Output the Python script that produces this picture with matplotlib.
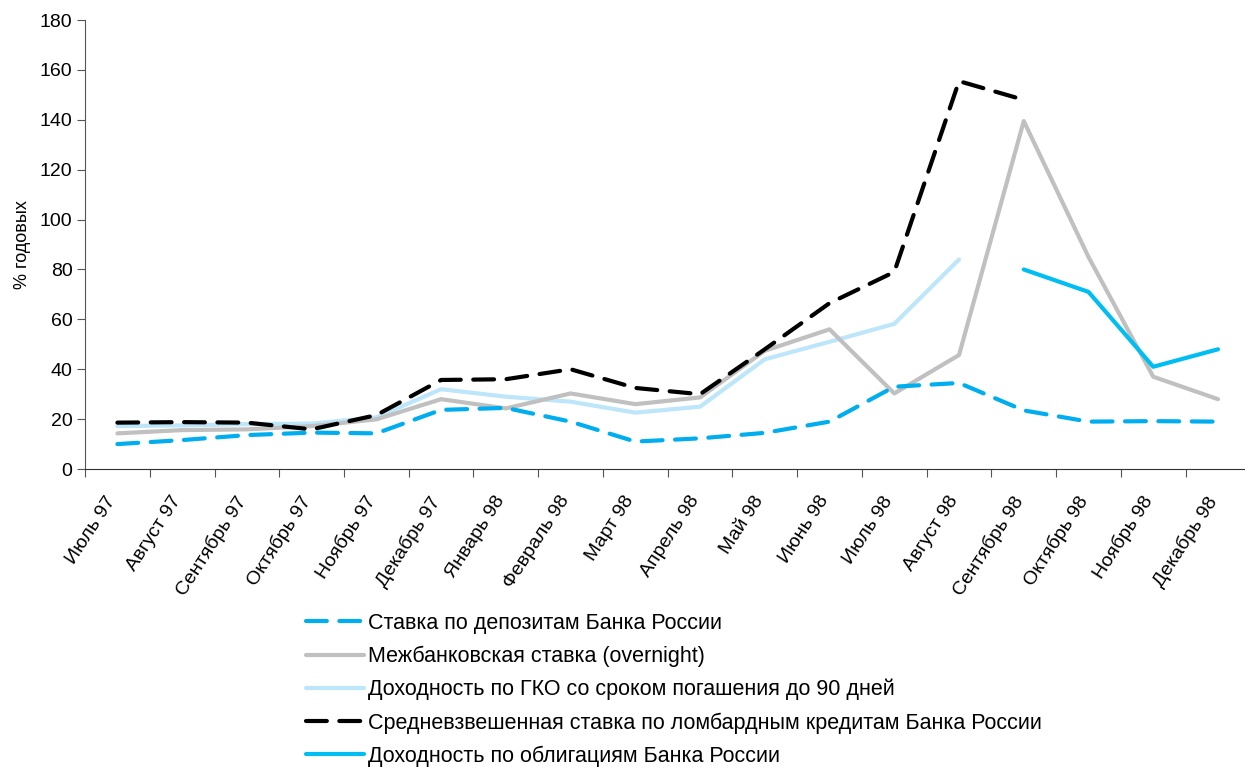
import numpy as np
import matplotlib.pyplot as plt
import matplotlib.transforms as mtransforms

plt.rcParams['font.family'] = ['Liberation Sans', 'DejaVu Sans']

months = ["Июль 97", "Август 97", "Сентябрь 97", "Октябрь 97", "Ноябрь 97",
          "Декабрь 97", "Январь 98", "Февраль 98", "Март 98", "Апрель 98",
          "Май 98", "Июнь 98", "Июль 98", "Август 98", "Сентябрь 98",
          "Октябрь 98", "Ноябрь 98", "Декабрь 98"]

nan = np.nan
deposit = [10, 11.6, 13.6, 14.6, 14.3, 23.7, 24.5, 19, 11, 12.3,
           14.5, 19, 33, 34.5, 23.5, 19, 19.2, 19]
interbank = [14.3, 15.6, 15.9, 17.2, 19.9, 28, 24.3, 30.3, 26, 28.7,
             47.4, 56, 30.3, 45.7, 139.5, 85, 37, 28]
gko = [17.2, 17.5, 18, 18.2, 20.7, 32, 29, 27, 22.6, 25,
       44, 51, 58.2, 84, nan, nan, nan, nan]
lombard = [18.6, 18.8, 18.6, 15.9, 21.6, 35.7, 36, 40, 32.5, 30,
           48, 66.5, 79, 155.5, 148, nan, nan, nan]
bonds = [nan] * 14 + [80, 71, 41, 48]

labels = ["Ставка по депозитам Банка России",
          "Межбанковская ставка (overnight)",
          "Доходность по ГКО со сроком погашения до 90 дней",
          "Средневзвешенная ставка по ломбардным кредитам Банка России",
          "Доходность по облигациям Банка России"]

fig = plt.figure(figsize=(12.45, 7.67), dpi=100)
ax = fig.add_axes([0.0683, 0.3885, 0.936, 0.5854])

x = np.arange(len(months))
lw = 3
ax.plot(x, gko, color="#BDE6FA", lw=lw, solid_capstyle="round", label=labels[2], zorder=2)
ax.plot(x, interbank, color="#C0C0C0", lw=lw, solid_capstyle="round", label=labels[1], zorder=3)
ax.plot(x, deposit, color="#00AEEF", lw=lw, dashes=(5, 3), dash_capstyle="round",
        label=labels[0], zorder=4)
ax.plot(x, lombard, color="black", lw=lw, dashes=(5, 3), dash_capstyle="round",
        label=labels[3], zorder=5)
ax.plot(x, bonds, color="#00BDF2", lw=lw, solid_capstyle="round", label=labels[4], zorder=6)

ax.set_xlim(-0.5, len(months) - 0.5)
ax.set_ylim(0, 180)
ax.set_yticks(np.arange(0, 181, 20))
ax.set_xticks(np.arange(-0.5, len(months), 1))
ax.set_xticklabels([])
ax.tick_params(axis="x", length=6, direction="out", color="#555555")
ax.tick_params(axis="y", length=6, direction="out", labelsize=14, pad=3, color="#555555")

# month labels under the category centres, rotated like in the original
offset = mtransforms.ScaledTranslation(-0.12, -0.24, fig.dpi_scale_trans)
trans = ax.get_xaxis_transform() + offset
for i, m in enumerate(months):
    ax.text(i, 0, m, transform=trans, rotation=57, ha="right", va="top",
            rotation_mode="anchor", fontsize=14, clip_on=False)

for s in ["top", "right"]:
    ax.spines[s].set_visible(False)
ax.spines["left"].set_color("#555555")
ax.spines["bottom"].set_color("#333333")
ax.set_ylabel("% годовых", fontsize=13, labelpad=6)

handles, labs = ax.get_legend_handles_labels()
order = [labels.index(l) for l in labs]
pairs = sorted(zip(order, handles, labs))
fig.legend([p[1] for p in pairs], [p[2] for p in pairs], loc="upper left",
           bbox_to_anchor=(0.239, 0.212), bbox_transform=fig.transFigure,
           frameon=False, fontsize=15.5, handlelength=2.7, handletextpad=0.15,
           labelspacing=0.55, borderaxespad=0)

fig.savefig("out.png", dpi=100)
